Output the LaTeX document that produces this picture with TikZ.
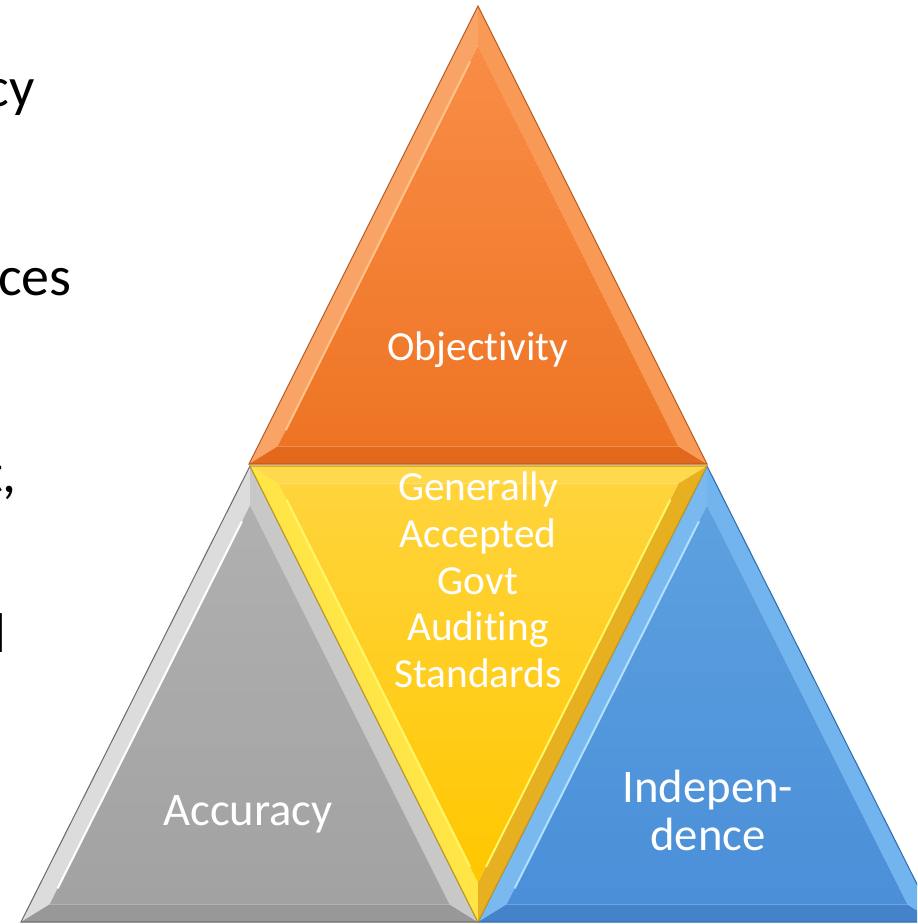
\documentclass[tikz,border=0pt]{standalone}
\usepackage{fontspec}
\setmainfont[Ligatures=NoCommon]{Carlito}
\usetikzlibrary{calc}
\definecolor{orangeEdge}{HTML}{B85A24}
\definecolor{orangeAB}{HTML}{F9A466}
\definecolor{orangeBC}{HTML}{E2691B}
\definecolor{orangeCA}{HTML}{F89A55}
\definecolor{orangeTop}{HTML}{F98D46}
\definecolor{orangeBot}{HTML}{EE7424}
\definecolor{orangeHi}{HTML}{FFC28C}
\definecolor{yellowEdge}{HTML}{C89A10}
\definecolor{yellowAB}{HTML}{FFE545}
\definecolor{yellowBC}{HTML}{FFD94C}
\definecolor{yellowCA}{HTML}{E6B020}
\definecolor{yellowTop}{HTML}{FFD43C}
\definecolor{yellowBot}{HTML}{FFC700}
\definecolor{yellowHi}{HTML}{FFF76A}
\definecolor{grayEdge}{HTML}{6E6E6E}
\definecolor{grayAB}{HTML}{DCDCDC}
\definecolor{grayBC}{HTML}{989898}
\definecolor{grayCA}{HTML}{C8C8C8}
\definecolor{grayTop}{HTML}{B0B0B0}
\definecolor{grayBot}{HTML}{A2A2A2}
\definecolor{grayHi}{HTML}{FFFFFF}
\definecolor{blueEdge}{HTML}{2F6FB0}
\definecolor{blueAB}{HTML}{7AB8F0}
\definecolor{blueBC}{HTML}{4483CA}
\definecolor{blueCA}{HTML}{72B4EE}
\definecolor{blueTop}{HTML}{5DA1E0}
\definecolor{blueBot}{HTML}{4A8FD8}
\definecolor{blueHi}{HTML}{B0E2FF}
\newcommand\bevtri[2]{
  \coordinate (#1a) at ($(#1I)!0.875!(#1A)$);
  \coordinate (#1b) at ($(#1I)!0.875!(#1B)$);
  \coordinate (#1c) at ($(#1I)!0.875!(#1C)$);
  \fill[#2AB] (#1A) -- (#1B) -- (#1b) -- (#1a) -- cycle;
  \fill[#2BC] (#1B) -- (#1C) -- (#1c) -- (#1b) -- cycle;
  \fill[#2CA] (#1C) -- (#1A) -- (#1a) -- (#1c) -- cycle;
  \shade[top color=#2Top, bottom color=#2Bot] (#1a) -- (#1b) -- (#1c) -- cycle;
  \draw[#2Hi, line width=1.5] ($(#1a)!0.04!(#1b)$) -- ($(#1b)!0.04!(#1a)$);
  \draw[#2Edge, line width=0.8] (#1A) -- (#1B) -- (#1C) -- cycle;
}
\tikzset{
  tritext/.style={text=white, inner sep=0, font=\fontsize{31}{35}\selectfont},
  bigtext/.style={text=white, inner sep=0, font=\fontsize{35}{36}\selectfont},
  frag/.style={text=black, inner sep=0, font=\fontsize{42}{50}\selectfont}
}

\begin{document}
\begin{tikzpicture}[x=0.75pt, y=-0.75pt]
  \useasboundingbox (0,0) rectangle (917,924);
  \clip (0,0) rectangle (917,924);
  % corners and incentres
  \coordinate (oA) at (478,6);   \coordinate (oB) at (249,464); \coordinate (oC) at (707,464); \coordinate (oI) at (478,322.5);
  \coordinate (gA) at (250,466); \coordinate (gB) at (21,922);  \coordinate (gC) at (478,922); \coordinate (gI) at (250,780.5);
  \coordinate (bA) at (707,466); \coordinate (bB) at (478,922); \coordinate (bC) at (936,922); \coordinate (bI) at (707,780.5);
  \coordinate (yA) at (478,922); \coordinate (yB) at (250,466); \coordinate (yC) at (707,466); \coordinate (yI) at (478,607.5);
  \bevtri{o}{orange}
  \bevtri{g}{gray}
  \bevtri{b}{blue}
  \bevtri{y}{yellow}
  \draw[yellowHi, line width=1.5] ($(yc)!0.04!(ya)$) -- ($(ya)!0.04!(yc)$);
  % labels
  \node[tritext, anchor=base] (objectivity) at (478,360) {Objectivity};
  \node[tritext, align=center] (gagas) at (478,580) {Generally\\Accepted\\Govt\\Auditing\\Standards};
  \node[bigtext, anchor=base] (accuracy) at (248,825) {Accuracy};
  \node[bigtext, align=center] (independence) at (708,810) {Indepen-\\dence};
  % cut-off text at the left edge
  \node[frag, anchor=base east] (fragcy) at (35,107) {cy};
  \node[frag, anchor=base east] (fragces) at (72,295) {ces};
  \node[frag, anchor=base east] (fragt) at (17,492) {t,};
  \node[frag, anchor=base east] (fragl) at (6.2,652) {l};
\end{tikzpicture}
\end{document}
